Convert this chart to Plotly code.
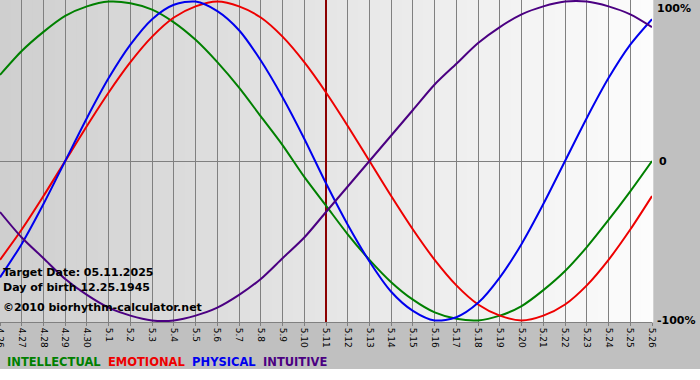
import plotly.graph_objects as go

dates = ["4.26", "4.27", "4.28", "4.29", "4.30"] + [f"5.{d}" for d in range(1, 27)]

physical = [-0.73, -0.52, -0.27, 0.00, 0.27, 0.52, 0.73, 0.89, 0.98, 1.00, 0.94,
            0.82, 0.63, 0.40, 0.14, -0.14, -0.40, -0.63, -0.82, -0.94, -1.00,
            -0.98, -0.89, -0.73, -0.52, -0.27, 0.00, 0.27, 0.52, 0.73, 0.89]
emotional = [-0.62, -0.43, -0.22, 0.00, 0.22, 0.43, 0.62, 0.78, 0.90, 0.97, 1.00,
             0.97, 0.90, 0.78, 0.62, 0.43, 0.22, 0.00, -0.22, -0.43, -0.62,
             -0.78, -0.90, -0.97, -1.00, -0.97, -0.90, -0.78, -0.62, -0.43, -0.22]
intellectual = [0.54, 0.69, 0.81, 0.91, 0.97, 1.00, 0.99, 0.95, 0.87, 0.76, 0.62,
                0.46, 0.28, 0.10, -0.10, -0.28, -0.46, -0.62, -0.76, -0.87, -0.95,
                -0.99, -1.00, -0.97, -0.91, -0.81, -0.69, -0.54, -0.37, -0.19, 0.00]
intuitive = [-0.32, -0.48, -0.61, -0.74, -0.84, -0.92, -0.97, -1.00, -1.00, -0.97, -0.92,
             -0.84, -0.74, -0.61, -0.48, -0.32, -0.16, 0.00, 0.16, 0.32, 0.48,
             0.61, 0.74, 0.84, 0.92, 0.97, 1.00, 1.00, 0.97, 0.92, 0.84]

target_date = "5.11"
y_ticks = [1, 0, -1]
y_ticktext = ["100%", "0", "-100%"]

series = [
    ("INTELLECTUAL", intellectual, "#008000"),
    ("EMOTIONAL", emotional, "#ee0000"),
    ("PHYSICAL", physical, "#0000ee"),
    ("INTUITIVE", intuitive, "#4b0082"),
]

YR = [-1.01, 1.01]

fig = go.Figure()
# target date marker (drawn first, under the curves)
fig.add_trace(go.Scatter(x=[target_date, target_date], y=YR, mode="lines",
                         line=dict(color="#8c0000", width=2), showlegend=False,
                         hoverinfo="skip"))
for name, vals, col in series:
    fig.add_trace(go.Scatter(x=dates, y=vals, mode="lines", name=name,
                             line=dict(color=col, width=2, shape="spline", smoothing=0.8),
                             showlegend=False, hoverinfo="skip"))

shapes = []
# background gradient (left darker, right lighter)
n = 60
c0, c1 = 207, 252
for i in range(n):
    v = round(c0 + (c1 - c0) * i / (n - 1))
    shapes.append(dict(type="rect", xref="paper", yref="paper",
                       x0=i / n, x1=(i + 1) / n + 0.002, y0=0, y1=1,
                       fillcolor=f"rgb({v},{v},{v})", line=dict(width=0), layer="below"))
# white strip at bottom
shapes.append(dict(type="rect", xref="paper", yref="paper", x0=-0.01, x1=1.1,
                   y0=-0.2, y1=(322 - 369) / 322, fillcolor="white",
                   line=dict(width=0), layer="below"))

annotations = []
bold = dict(family="DejaVu Sans", size=11, color="black")
for txt, py in [("Target Date: 05.11.2025", 272), ("Day of birth 12.25.1945", 287),
                ("©2010 biorhythm-calculator.net", 307)]:
    annotations.append(dict(text=f"<b>{txt}</b>", xref="paper", yref="paper",
                            x=0, y=(322 - py) / 322, xanchor="left", yanchor="middle",
                            xshift=1, showarrow=False, font=bold))
for val, txt in zip(y_ticks, y_ticktext):
    annotations.append(dict(text=f"<b>{txt}</b>", xref="paper", yref="y",
                            x=1, y=val, xanchor="left",
                            yanchor="top" if val == 1 else "middle",
                            xshift=3 if val != 0 else 5, yshift=2 if val == 1 else 0,
                            showarrow=False, font=bold))
legend_html = "&nbsp; ".join(f"<span style='color:{c}'><b>{nm}</b></span>" for nm, _, c in series)
annotations.append(dict(text=legend_html, xref="paper", yref="paper", x=0, y=(322 - 362) / 322,
                        xanchor="left", yanchor="middle", xshift=5, showarrow=False,
                        font=dict(family="DejaVu Sans", size=11.5)))

fig.update_layout(
    width=700, height=380,
    margin=dict(l=0, r=48, t=0, b=58),
    paper_bgcolor="#c0c0c0",
    plot_bgcolor="#e6e6e6",
    shapes=shapes,
    annotations=annotations,
    xaxis=dict(type="category", categoryorder="array", categoryarray=dates,
               range=[0, len(dates) - 1], showgrid=True,
               gridcolor="#808080", gridwidth=1, tickangle=90,
               tickfont=dict(family="DejaVu Sans", size=9, color="black"),
               ticks="outside", ticklen=3, tickcolor="#808080",
               showline=True, linecolor="#808080", linewidth=1, fixedrange=True,
               automargin=False),
    yaxis=dict(range=YR, showgrid=False, zeroline=True,
               zerolinecolor="#808080", zerolinewidth=1, showticklabels=False,
               fixedrange=True, automargin=False),
)

fig.write_html("out.html", config={"displayModeBar": False},
               post_script="document.body.style.margin='0';document.body.style.padding='0';")
